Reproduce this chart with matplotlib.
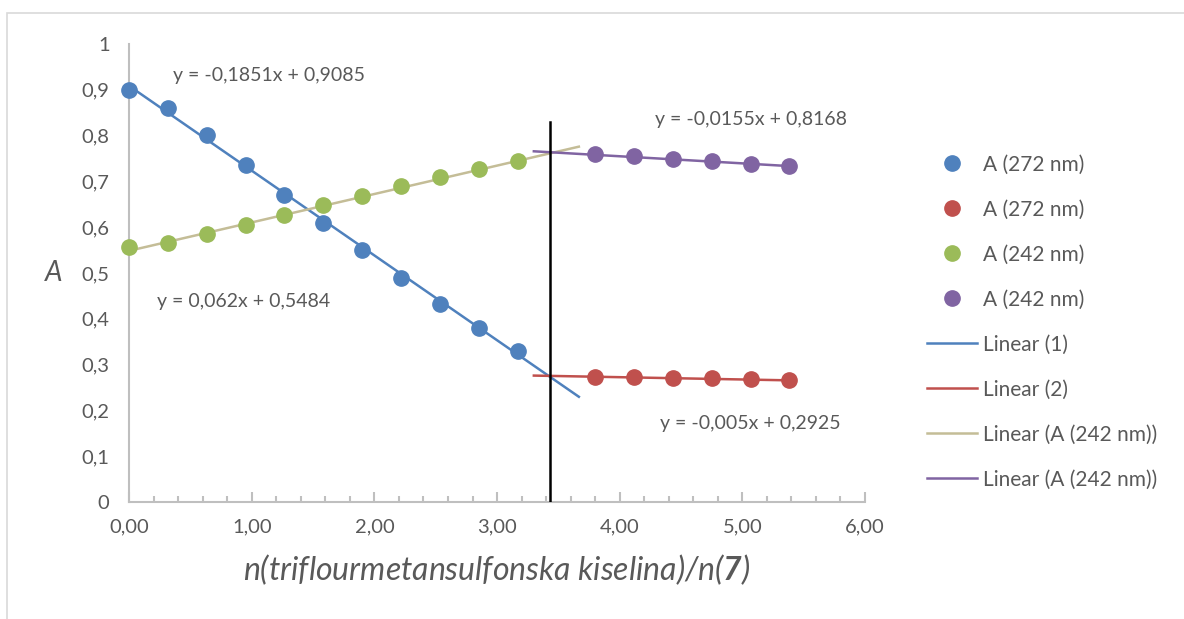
import matplotlib.pyplot as plt
import numpy as np
from matplotlib.ticker import FuncFormatter, MultipleLocator
from matplotlib.patches import Rectangle
from matplotlib.lines import Line2D

plt.rcParams['font.family'] = ['Lato', 'DejaVu Sans']
plt.rcParams['mathtext.fontset'] = 'custom'
plt.rcParams['mathtext.rm'] = 'Lato'
plt.rcParams['mathtext.it'] = 'Lato:italic'
plt.rcParams['mathtext.bf'] = 'Lato:bold'
plt.rcParams['mathtext.bfit'] = 'Lato:bold:italic'

# data
x1 = [0.0, 0.317, 0.633, 0.95, 1.267, 1.583, 1.9, 2.217, 2.533, 2.85, 3.167]
a272_1 = [0.900, 0.860, 0.801, 0.736, 0.670, 0.610, 0.551, 0.490, 0.433, 0.380, 0.330]
a242_1 = [0.556, 0.566, 0.585, 0.605, 0.627, 0.649, 0.669, 0.690, 0.709, 0.728, 0.745]
x2 = [3.8, 4.117, 4.433, 4.75, 5.067, 5.383]
a272_2 = [0.274, 0.273, 0.271, 0.270, 0.268, 0.266]
a242_2 = [0.759, 0.755, 0.749, 0.745, 0.739, 0.734]

# trendline coefficients (slope, intercept) as printed on the chart
fit_blue = (-0.1851, 0.9085)
fit_red = (-0.005, 0.2925)
fit_green = (0.062, 0.5484)
fit_purple = (-0.0155, 0.8168)
extend = 0.5  # Excel forecast forward/backward
vline_x = 3.43
vline_top = 0.83

blue = '#4F81BD'
red = '#C0504D'
green = '#9BBB59'
purple = '#8064A2'
tan = '#C4BD97'
txt = '#595959'
grey = '#BFBFBF'

fig = plt.figure(figsize=(11.84, 6.19), dpi=100)
ax = fig.add_axes([0.109, 0.189, 0.6216, 0.74])

fig.patches.append(Rectangle((7 / 1184, -0.1), 1.2, 1 - 13 / 619 + 0.1,
                             transform=fig.transFigure, fill=False,
                             edgecolor='#D9D9D9', lw=1.2))


def trend(fit, x0, x1_):
    xs = np.array([x0, x1_])
    return xs, fit[0] * xs + fit[1]


xs, ys = trend(fit_blue, x1[0], x1[-1] + extend)
ax.plot(xs, ys, color=blue, lw=1.8, zorder=2)
xs, ys = trend(fit_red, x2[0] - extend, x2[-1])
ax.plot(xs, ys, color=red, lw=1.8, zorder=2)
xs, ys = trend(fit_green, x1[0], x1[-1] + extend)
ax.plot(xs, ys, color=tan, lw=1.8, zorder=2)
xs, ys = trend(fit_purple, x2[0] - extend, x2[-1])
ax.plot(xs, ys, color=purple, lw=1.8, zorder=2)

ms = 11
ax.plot(x1, a272_1, 'o', color=blue, ms=ms, zorder=3, clip_on=False)
ax.plot(x2, a272_2, 'o', color=red, ms=ms, zorder=3)
ax.plot(x1, a242_1, 'o', color=green, ms=ms, zorder=3, clip_on=False)
ax.plot(x2, a242_2, 'o', color=purple, ms=ms, zorder=3)

ax.plot([vline_x, vline_x], [0, vline_top], color='black', lw=1.8, zorder=4)

efs = 14
ax.text(0.36, 0.932, 'y = -0,1851x + 0,9085', fontsize=efs, color=txt, va='center')
ax.text(0.23, 0.437, 'y = 0,062x + 0,5484', fontsize=efs, color=txt, va='center')
ax.text(4.29, 0.836, 'y = -0,0155x + 0,8168', fontsize=efs, color=txt, va='center')
ax.text(4.33, 0.172, 'y = -0,005x + 0,2925', fontsize=efs, color=txt, va='center')

ax.set_xlim(0, 6)
ax.set_ylim(0, 1)
ax.xaxis.set_major_locator(MultipleLocator(1))
ax.xaxis.set_minor_locator(MultipleLocator(0.2))
ax.yaxis.set_major_locator(MultipleLocator(0.1))
ax.xaxis.set_major_formatter(FuncFormatter(lambda v, p: f'{v:.2f}'.replace('.', ',')))
ax.yaxis.set_major_formatter(FuncFormatter(lambda v, p: f'{v:.1f}'.replace('.', ',').replace('0,0', '0').replace('1,0', '1')))
for s in ['top', 'right']:
    ax.spines[s].set_visible(False)
for s in ['left', 'bottom']:
    ax.spines[s].set_color(grey)
    ax.spines[s].set_linewidth(1.5)
tfs = 14.5
ax.tick_params(axis='x', which='major', direction='in', length=7, color=grey, width=1.5,
               labelsize=tfs, labelcolor=txt, pad=12)
ax.tick_params(axis='x', which='minor', direction='in', length=4, color=grey, width=1.5)
ax.tick_params(axis='y', length=0, labelsize=tfs, labelcolor=txt, pad=14)

ax.set_xlabel(r'n(triflourmetansulfonska kiselina)/n($\mathbfit{7}$)', fontsize=23,
              style='italic', color=txt, labelpad=12)
ax.set_ylabel('A', fontsize=20, style='italic', color=txt, rotation=0, labelpad=20, va='center')

handles = [
    Line2D([], [], ls='none', marker='o', color=blue, ms=ms),
    Line2D([], [], ls='none', marker='o', color=red, ms=ms),
    Line2D([], [], ls='none', marker='o', color=green, ms=ms),
    Line2D([], [], ls='none', marker='o', color=purple, ms=ms),
    Line2D([], [], color=blue, lw=1.8),
    Line2D([], [], color=red, lw=1.8),
    Line2D([], [], color=tan, lw=1.8),
    Line2D([], [], color=purple, lw=1.8),
]
labels = ['A (272 nm)', 'A (272 nm)', 'A (242 nm)', 'A (242 nm)',
          'Linear (1)', 'Linear (2)', 'Linear (A (242 nm))', 'Linear (A (242 nm))']
leg = fig.legend(handles, labels, loc='upper left', bbox_to_anchor=(0.776, 0.764),
                 frameon=False, fontsize=15, labelspacing=1.2, handlelength=2.4,
                 handletextpad=0.3, borderaxespad=0)
for t in leg.get_texts():
    t.set_color(txt)

fig.savefig('out.png', dpi=100)
